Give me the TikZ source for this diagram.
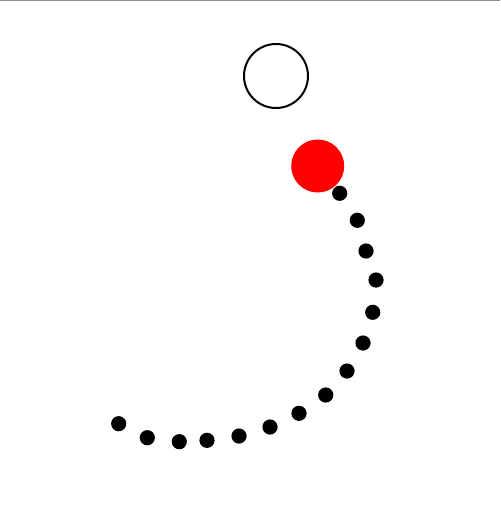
\documentclass[tikz,border=0pt]{standalone}
\usepackage{tikz}
\tikzset{
  ring/.style={draw=black,line width=2pt,fill=white},
  ball/.style={fill=red},
  trail/.style={fill=black},
  rule/.style={draw=black!45,line width=1.5pt},
}
\begin{document}
\begin{tikzpicture}[x=1pt,y=-1pt]
  \useasboundingbox (0,0) rectangle (500,505);
  \draw[rule] (0,0.6) -- (500,0.6);
  \draw[ring] (276,76) circle (32);
  \fill[ball] (317.7,166) circle (26.5);
  \foreach \px/\py in {339.7/193.3,357.3/220.3,366/251,376/280,372.7/312.3,
      363/343,347/371,325.7/395,299/413.3,270/427,239/436,207/440.3,
      179.3/441.7,147.3/437.7,118.7/423.7}
    \fill[trail] (\px,\py) circle (7.6);
\end{tikzpicture}
\end{document}
